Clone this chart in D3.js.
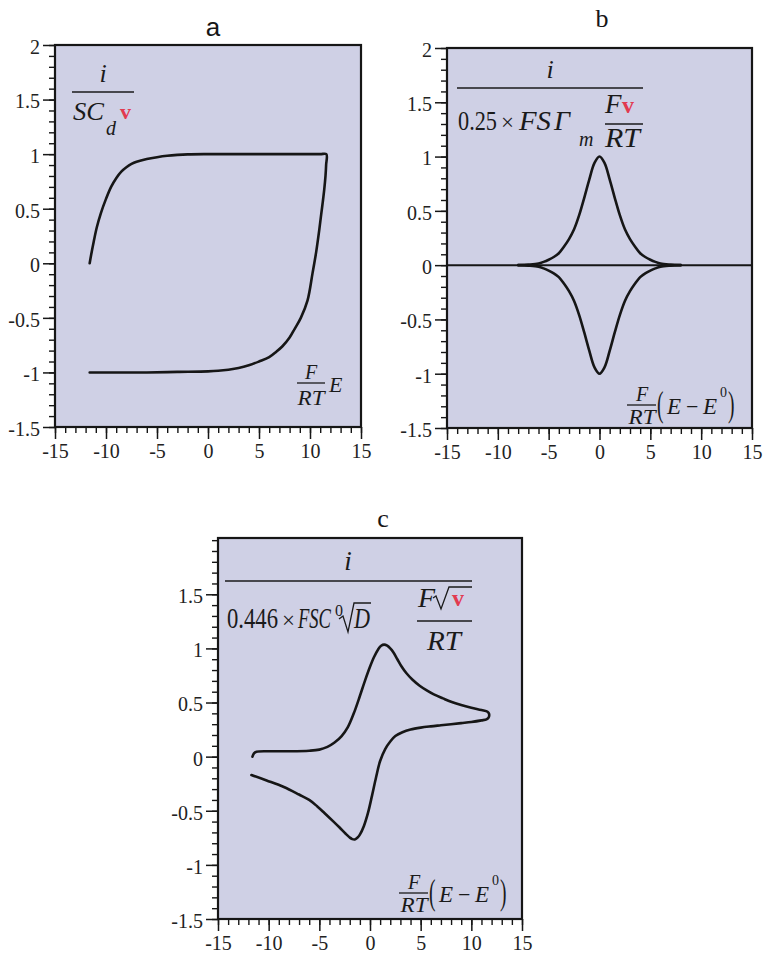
<!DOCTYPE html>
<html><head><meta charset="utf-8">
<script src="https://cdn.jsdelivr.net/npm/d3@7"></script>
<style>body{margin:0;background:#fff} svg{display:block}</style>
</head><body>
<svg id="chart" width="768" height="978"></svg>
<script>
// ---------------- data ----------------
const xTickValues = [-15, -10, -5, 0, 5, 10, 15];
const yTickValuesAB = [-1.5, -1, -0.5, 0, 0.5, 1, 1.5, 2];
const yTickValuesC = [-1.5, -1, -0.5, 0, 0.5, 1, 1.5];
const panelTitles = ["a", "b", "c"];

// panel a : capacitive (double-layer) current, forward then reverse scan  [E, i]
const curveA = [
  [-11.6, 0], [-11.45, 0.08], [-11.2, 0.2], [-10.9, 0.33], [-10.5, 0.46], [-10, 0.59],
  [-9.5, 0.7], [-9, 0.78], [-8.5, 0.84], [-8, 0.88], [-7.5, 0.91], [-7, 0.93], [-6, 0.955],
  [-5, 0.972], [-4, 0.985], [-3, 0.993], [-2, 0.998], [0, 1.0], [3, 1.0], [6, 1.0], [9, 1.0],
  [11.0, 1.0], [11.6, 1.0],
  [11.58, 0.9], [11.52, 0.8], [11.4, 0.68], [11.25, 0.56], [11.1, 0.45], [10.9, 0.3],
  [10.6, 0.1], [10.25, -0.09], [9.76, -0.34], [9.1, -0.5], [8.5, -0.6], [8.0, -0.68],
  [7.3, -0.76], [6.7, -0.81], [6, -0.86], [5, -0.9], [4, -0.935], [3, -0.96], [2, -0.975],
  [1, -0.985], [0, -0.99], [-3, -0.995], [-6, -1.0], [-9, -1.0], [-11.6, -1.0]
];

// panel b : adsorbed (surface-confined) species, anodic and cathodic branches  [E, i]
const curveBUpper = [
  [-8, 0], [-7, 0.005], [-6, 0.015], [-5.5, 0.03], [-5, 0.05], [-4.5, 0.075], [-4, 0.11],
  [-3.5, 0.17], [-3, 0.24], [-2.5, 0.33], [-2, 0.46], [-1.5, 0.62], [-1, 0.79], [-0.5, 0.94],
  [0, 1.0], [0.5, 0.94], [1, 0.79], [1.5, 0.62], [2, 0.46], [2.5, 0.33], [3, 0.24],
  [3.5, 0.17], [4, 0.11], [4.5, 0.075], [5, 0.05], [5.5, 0.03], [6, 0.015], [7, 0.005], [8, 0]
];
const curveBLower = [
  [8, 0], [7, -0.005], [6, -0.015], [5.5, -0.03], [5, -0.05], [4.5, -0.075], [4, -0.11],
  [3.5, -0.17], [3, -0.24], [2.5, -0.33], [2, -0.46], [1.5, -0.62], [1, -0.79], [0.5, -0.94],
  [0, -1.0], [-0.5, -0.94], [-1, -0.79], [-1.5, -0.62], [-2, -0.46], [-2.5, -0.33], [-3, -0.24],
  [-3.5, -0.17], [-4, -0.11], [-4.5, -0.075], [-5, -0.05], [-5.5, -0.03], [-6, -0.015], [-7, -0.005], [-8, 0]
];
const baselineB = [[-15, 0], [15, 0]];

// panel c : diffusion-controlled reversible couple  [E, i]
const curveC = [
  [-11.6, 0.0], [-11.45, 0.03], [-11.2, 0.045], [-10, 0.05], [-8, 0.05], [-6, 0.055],
  [-5, 0.065], [-4.2, 0.09], [-3.5, 0.13], [-2.8, 0.19], [-2.2, 0.27], [-1.6, 0.4],
  [-1.0, 0.56], [-0.5, 0.7], [0, 0.83], [0.4, 0.92], [0.8, 0.99], [1.1, 1.025], [1.4, 1.035],
  [1.7, 1.025], [2.0, 1.0], [2.3, 0.965], [2.7, 0.9], [3.1, 0.835], [3.6, 0.77], [4.2, 0.71],
  [4.9, 0.655], [5.6, 0.612], [6.3, 0.575], [7.2, 0.538], [8.0, 0.507], [9.0, 0.477],
  [10.0, 0.452], [11.0, 0.43], [11.6, 0.415], [11.75, 0.395], [11.7, 0.36], [11.5, 0.345],
  [11, 0.335], [10, 0.32], [9, 0.31], [8, 0.3], [7, 0.29], [6, 0.28], [5, 0.268], [4, 0.25],
  [3.2, 0.225], [2.5, 0.19], [2.0, 0.14], [1.5, 0.07], [1.0, -0.04], [0.6, -0.19],
  [0.2, -0.36], [-0.2, -0.52], [-0.6, -0.64], [-1.0, -0.72], [-1.25, -0.75], [-1.5, -0.765],
  [-1.75, -0.762], [-2.0, -0.747], [-2.4, -0.712], [-3, -0.655], [-3.6, -0.6], [-4.5, -0.52],
  [-5.2, -0.46], [-6, -0.4], [-7, -0.35], [-8.5, -0.28], [-10.2, -0.22], [-11.7, -0.17]
];

// ---------------- layout ----------------
const SERIF = "'Liberation Serif','Times New Roman',serif";
const RED = "#e23a50";
const BG = "#cfd0e5";
const INK = "#161616";
const svg = d3.select("#chart");

const panels = [
  { title: panelTitles[0], left: 55, top: 45, w: 306, h: 382, yMax: 2, yTicks: yTickValuesAB,
    series: [curveA], titleX: 213, titleY: 36, titleFont: "'Liberation Sans',Arial,sans-serif" },
  { title: panelTitles[1], left: 447, top: 48, w: 305, h: 380, yMax: 2, yTicks: yTickValuesAB,
    series: [curveBUpper, curveBLower], baseline: baselineB, titleX: 602, titleY: 27, titleFont: SERIF },
  { title: panelTitles[2], left: 218, top: 538, w: 304, h: 381, yMax: 2.02, yTicks: yTickValuesC,
    series: [curveC], titleX: 383, titleY: 527, titleFont: SERIF }
];

const smooth = d3.line().curve(d3.curveCatmullRom.alpha(0.5));
const straight = d3.line();

panels.forEach(p => {
  const x = d3.scaleLinear().domain([-15, 15]).range([0, p.w]);
  const y = d3.scaleLinear().domain([-1.5, p.yMax]).range([p.h, 0]);
  const g = svg.append("g").attr("transform", `translate(${p.left},${p.top})`);

  g.append("rect").attr("width", p.w).attr("height", p.h).attr("fill", BG);

  // minor ticks
  const xMinor = d3.range(-15, 15.001, 1);
  const yMinor = d3.range(-15, Math.round(p.yMax * 10) + 0.001, 1).map(v => v / 10);
  g.append("g").attr("transform", `translate(0,${p.h})`)
    .call(d3.axisBottom(x).tickValues(xMinor).tickSize(6).tickSizeOuter(0).tickFormat(""))
    .call(a => a.select(".domain").remove())
    .call(a => a.selectAll("line").attr("stroke", INK).attr("stroke-width", 1.4));
  g.append("g")
    .call(d3.axisLeft(y).tickValues(yMinor).tickSize(6).tickSizeOuter(0).tickFormat(""))
    .call(a => a.select(".domain").remove())
    .call(a => a.selectAll("line").attr("stroke", INK).attr("stroke-width", 1.4));

  // major ticks + labels
  g.append("g").attr("transform", `translate(0,${p.h})`)
    .call(d3.axisBottom(x).tickValues(xTickValues).tickSize(12).tickSizeOuter(0).tickPadding(5)
      .tickFormat(d => String(d)))
    .call(a => a.select(".domain").remove())
    .call(a => a.selectAll("line").attr("stroke", INK).attr("stroke-width", 1.5))
    .call(a => a.selectAll("text").attr("fill", "#222").attr("font-family", SERIF)
      .style("font-family", SERIF).style("font-size", "20px"));
  g.append("g")
    .call(d3.axisLeft(y).tickValues(p.yTicks).tickSize(12).tickSizeOuter(0).tickPadding(3)
      .tickFormat(d => String(d)))
    .call(a => a.select(".domain").remove())
    .call(a => a.selectAll("line").attr("stroke", INK).attr("stroke-width", 1.5))
    .call(a => a.selectAll("text").attr("fill", "#222").attr("dy", "0.42em").attr("font-family", SERIF)
      .style("font-family", SERIF).style("font-size", "20px"));

  if (p.baseline) {
    g.append("path").attr("d", straight(p.baseline.map(d => [x(d[0]), y(d[1])])))
      .attr("fill", "none").attr("stroke", INK).attr("stroke-width", 2);
  }
  p.series.forEach(s => {
    g.append("path").attr("d", smooth(s.map(d => [x(d[0]), y(d[1])])))
      .attr("fill", "none").attr("stroke", INK).attr("stroke-width", 2.6)
      .attr("stroke-linejoin", "round").attr("stroke-linecap", "round");
  });

  g.append("rect").attr("width", p.w).attr("height", p.h)
    .attr("fill", "none").attr("stroke", INK).attr("stroke-width", 2.2);

  svg.append("text").attr("x", p.titleX).attr("y", p.titleY).attr("text-anchor", "middle")
    .style("font-family", p.titleFont).style("font-size", "26px").attr("fill", INK).text(p.title);
});

// ---------------- math labels ----------------
function t(x, y, s, size, o = {}) {
  const el = svg.append("text").text(s)
    .style("font-family", SERIF).style("font-size", size + "px")
    .attr("fill", o.color || "#1a1a1a")
    .style("font-style", o.italic ? "italic" : "normal")
    .style("font-weight", o.bold ? "bold" : "normal");
  if (o.anchor) el.attr("text-anchor", o.anchor);
  if (o.len) {
    const w = el.node().getComputedTextLength() || o.len;
    el.attr("x", 0).attr("y", 0).attr("transform", `translate(${x},${y}) scale(${o.len / w},1)`);
  } else {
    el.attr("x", x).attr("y", y);
  }
  return el;
}
function paren(x, y, s) { // tall thin parenthesis
  svg.append("text").attr("transform", `translate(${x},${y}) scale(0.75,1.35)`).text(s)
    .style("font-family", SERIF).style("font-size", "26px").attr("fill", "#1a1a1a");
}
function hl(x1, x2, y, w = 1.3) {
  svg.append("line").attr("x1", x1).attr("x2", x2).attr("y1", y).attr("y2", y)
    .attr("stroke", "#1a1a1a").attr("stroke-width", w);
}
function radical(pts) {
  svg.append("path").attr("d", d3.line()(pts)).attr("fill", "none")
    .attr("stroke", "#1a1a1a").attr("stroke-width", 1.3).attr("stroke-linejoin", "miter");
}
function eLabel(x0, y0) { // F/RT (E - E0), x0 = left of fraction bar, y0 = bar y
  t(x0 + 15, y0 - 4, "F", 20, { italic: true, anchor: "middle" });
  hl(x0, x0 + 29, y0);
  t(x0 + 15, y0 + 19, "RT", 22, { italic: true, anchor: "middle", len: 27 });
  paren(x0 + 30, y0 + 11, "(");
  t(x0 + 40, y0 + 9, "E", 23, { italic: true });
  t(x0 + 59, y0 + 9, "\u2212", 22);
  t(x0 + 76, y0 + 9, "E", 23, { italic: true });
  t(x0 + 93, y0 - 8, "0", 14);
  paren(x0 + 101, y0 + 11, ")");
}

// panel a
t(103, 82, "i", 26, { italic: true, anchor: "middle" });
hl(72, 134, 92);
t(73, 120, "SC", 26, { italic: true, len: 31 });
t(106, 135, "d", 20, { italic: true });
t(120, 119, "v", 22, { bold: true, color: RED });
t(311, 379, "F", 20, { italic: true, anchor: "middle" });
hl(297, 325, 383);
t(311, 405, "RT", 22, { italic: true, anchor: "middle", len: 27 });
t(329, 392, "E", 22, { italic: true });

// panel b
t(550, 78, "i", 26, { italic: true, anchor: "middle" });
hl(457, 643, 88);
t(458, 130, "0.25", 28, { len: 39 });
t(501, 130, "\u00d7", 23);
t(519, 130, "FS", 28, { italic: true, len: 32 });
t(554, 130, "\u0393", 28, { italic: true });
t(579, 146, "m", 20, { italic: true });
t(605, 113, "F", 27, { italic: true });
t(622, 113, "v", 24, { bold: true, color: RED });
hl(605, 643, 124);
t(605, 147, "RT", 27, { italic: true, len: 35 });
eLabel(627, 405);

// panel c
t(348, 570, "i", 27, { italic: true, anchor: "middle" });
hl(225, 472, 581);
t(227, 628, "0.446", 29, { len: 51 });
t(282, 628, "\u00d7", 23);
t(298, 628, "FSC", 29, { italic: true, len: 33 });
t(335, 616, "0", 16);
radical([[339, 619], [343, 616], [348, 632], [354, 603], [371, 603]]);
t(354, 628, "D", 29, { italic: true, len: 16 });
t(418, 607, "F", 28, { italic: true });
radical([[433, 598], [436, 596], [441, 609], [449, 587], [472, 587]]);
t(452, 606, "v", 24, { bold: true, color: RED });
hl(417, 472, 621);
t(427, 650, "RT", 28, { italic: true, len: 34 });
eLabel(399, 893);
</script>
</body></html>
